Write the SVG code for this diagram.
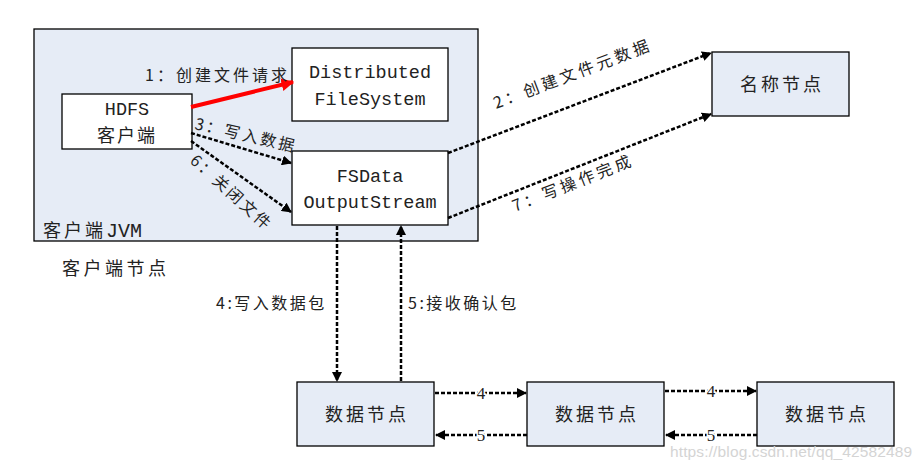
<svg xmlns="http://www.w3.org/2000/svg" width="922" height="467" viewBox="0 0 922 467">
<style>
.box{fill:#e6ecf6;stroke:#000;stroke-width:1.3}
.wbox{fill:#ffffff;stroke:#000;stroke-width:1.3}
.t{font-family:"Liberation Mono","Noto Sans CJK SC",monospace;font-size:18.5px;fill:#222;text-anchor:middle}
.c{font-family:"Noto Sans CJK SC",sans-serif;font-size:18px;fill:#222;letter-spacing:3px}
.l{font-family:"Noto Sans CJK SC",sans-serif;font-size:16px;fill:#222;letter-spacing:3.5px}
.d{fill:none;stroke:#000;stroke-width:2.5;stroke-dasharray:4 2}
.n{font-family:"Liberation Serif",serif;font-size:17px;fill:#222;text-anchor:middle;stroke:#fff;stroke-width:3;paint-order:stroke}
</style>
<defs>
<marker id="ah" viewBox="0 0 10 10" refX="9" refY="5" markerWidth="4" markerHeight="4" orient="auto" markerUnits="strokeWidth">
<path d="M0,0 L10,5 L0,10 z" fill="#000"/>
</marker>
<marker id="ahr" viewBox="0 0 10 10" refX="9" refY="5" markerWidth="3.2" markerHeight="3.2" orient="auto" markerUnits="strokeWidth">
<path d="M0,0 L10,5 L0,10 z" fill="#ff0000"/>
</marker>
</defs>

<g id="jvm">
<rect class="box" x="34" y="29" width="444" height="212"/>
<text class="c" x="43" y="237">客户端<tspan font-family="Liberation Mono" font-size="20" style="letter-spacing:0">JVM</tspan></text>
</g>
<g id="client-node-label">
<text class="c" x="62" y="275" style="letter-spacing:3.5px">客户端节点</text>
</g>

<g id="hdfs-client">
<rect class="wbox" x="62" y="94" width="130" height="55"/>
<text class="t" x="127" y="115">HDFS</text>
<text class="c" x="127" y="142" text-anchor="middle" style="letter-spacing:2px">客户端</text>
</g>
<g id="dfs">
<rect class="wbox" x="292" y="48" width="156" height="73"/>
<text class="t" x="370" y="78">Distributed</text>
<text class="t" x="370" y="105">FileSystem</text>
</g>
<g id="fsdos">
<rect class="wbox" x="292" y="151" width="156" height="74"/>
<text class="t" x="370" y="182">FSData</text>
<text class="t" x="370" y="208">OutputStream</text>
</g>
<g id="namenode">
<rect class="box" x="712" y="52" width="137" height="64"/>
<text class="c" x="782" y="91" text-anchor="middle">名称节点</text>
</g>
<g id="datanode1">
<rect class="box" x="297" y="382" width="137" height="64"/>
<text class="c" x="367" y="421" text-anchor="middle">数据节点</text>
</g>
<g id="datanode2">
<rect class="box" x="527" y="382" width="137" height="64"/>
<text class="c" x="597" y="421" text-anchor="middle">数据节点</text>
</g>
<g id="datanode3">
<rect class="box" x="757" y="382" width="137" height="64"/>
<text class="c" x="827" y="421" text-anchor="middle">数据节点</text>
</g>

<g id="connectors">
<line x1="191" y1="107" x2="293" y2="82" stroke="#ff0000" stroke-width="4" marker-end="url(#ahr)"/>
<text class="l" x="145" y="81" style="letter-spacing:3px">1：创建文件请求</text>

<line class="d" x1="191" y1="133" x2="291" y2="163" marker-end="url(#ah)"/>
<text class="l" x="194" y="129" transform="rotate(13 194 129)" style="letter-spacing:2.5px">3：写入数据</text>

<line class="d" x1="191" y1="141" x2="291" y2="212" marker-end="url(#ah)"/>
<text class="l" x="189" y="162" transform="rotate(42 189 162)" style="letter-spacing:2.5px">6：关闭文件</text>

<line class="d" x1="448" y1="153" x2="711" y2="53" marker-end="url(#ah)"/>
<text class="l" x="496" y="109" transform="rotate(-20.7 496 109)">2：创建文件元数据</text>

<line class="d" x1="448" y1="218" x2="711" y2="114" marker-end="url(#ah)"/>
<text class="l" x="515" y="212" transform="rotate(-21.5 515 212)">7：写操作完成</text>

<line class="d" x1="337" y1="226" x2="337" y2="381" marker-end="url(#ah)"/>
<text class="l" x="216" y="309" style="letter-spacing:2.5px">4:写入数据包</text>
<line class="d" x1="401" y1="381" x2="401" y2="226" marker-end="url(#ah)"/>
<text class="l" x="408" y="309" style="letter-spacing:2.5px">5:接收确认包</text>

<line class="d" x1="435" y1="393" x2="526" y2="393" marker-end="url(#ah)"/>
<text class="n" x="481" y="399">4</text>
<line class="d" x1="527" y1="435" x2="436" y2="435" marker-end="url(#ah)"/>
<text class="n" x="481" y="441">5</text>
<line class="d" x1="665" y1="391" x2="756" y2="391" marker-end="url(#ah)"/>
<text class="n" x="711" y="397">4</text>
<line class="d" x1="757" y1="435" x2="666" y2="435" marker-end="url(#ah)"/>
<text class="n" x="711" y="441">5</text>
</g>

<text x="670" y="457" font-family="Liberation Sans,sans-serif" font-size="15.5" fill="#d4d4d4" textLength="242">https://blog.csdn.net/qq_42582489</text>
</svg>
